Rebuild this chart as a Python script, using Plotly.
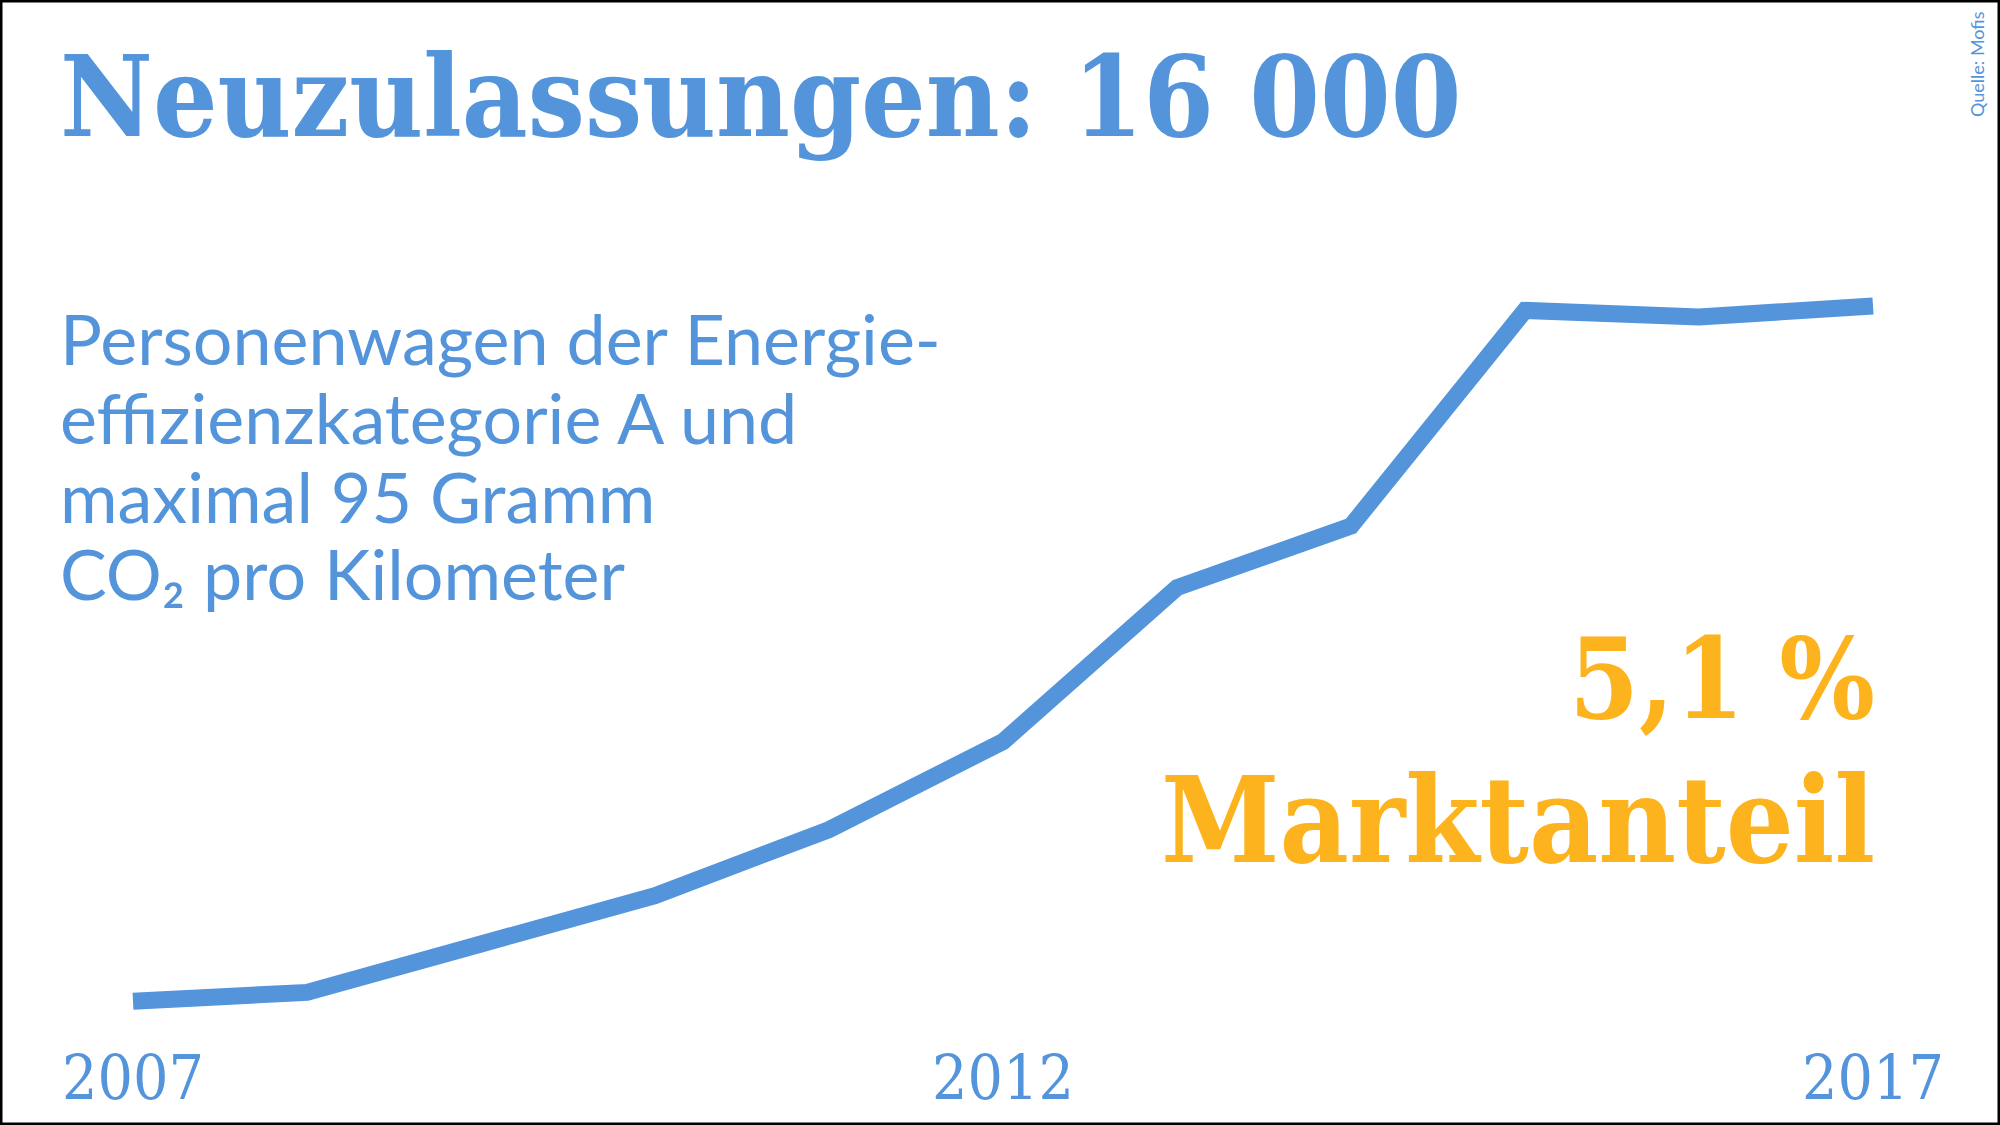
import plotly.graph_objects as go

# ---- data ----
years = [2007, 2008, 2009, 2010, 2011, 2012, 2013, 2014, 2015, 2016, 2017]
registrations = [200, 400, 1500, 2600, 4100, 6100, 9600, 11000, 15900, 15750, 16000]
tick_years = [2007, 2012, 2017]
tick_labels = ["2007", "2012", "2017"]

title_text = "Neuzulassungen: 16 000"
subtitle_lines = [
    "Personenwagen der Energie-",
    "effizienzkategorie A und",
    "maximal 95 Gramm",
    "CO₂ pro Kilometer",
]
share_value = "5,1 %"
share_label = "Marktanteil"
source_text = "Quelle: Mofis"

BLUE = "#5394DB"
ORANGE = "#FDB31E"
W, H = 2000, 1125
SERIF = "DejaVu Serif Condensed, DejaVu Serif, serif"
SANS = "Lato, Noto Sans, sans-serif"

def py(px):
    return 1 - px / H

def px_x(px):
    return px / W

fig = go.Figure()
fig.add_trace(go.Scatter(
    x=years, y=registrations, mode="lines",
    line=dict(color=BLUE, width=17),
    hoverinfo="skip", showlegend=False,
))

annotations = []
annotations.append(dict(
    text=f"<b>{title_text}</b>", xref="paper", yref="paper",
    x=px_x(58), y=py(96), xanchor="left", yanchor="middle",
    showarrow=False, font=dict(family=SERIF, size=113, color=BLUE),
))
line_baselines = [367, 446, 525, 602]
for txt, b in zip(subtitle_lines, line_baselines):
    annotations.append(dict(
        text=txt, xref="paper", yref="paper",
        x=px_x(58), y=py(b - 29), xanchor="left", yanchor="middle",
        showarrow=False, font=dict(family=SANS, size=70, color=BLUE),
    ))
annotations.append(dict(
    text=f"<b>{share_value}</b>", xref="paper", yref="paper",
    x=px_x(1877), y=py(678), xanchor="right", yanchor="middle",
    showarrow=False, font=dict(family=SERIF, size=112, color=ORANGE),
))
annotations.append(dict(
    text=f"<b>{share_label}</b>", xref="paper", yref="paper",
    x=px_x(1877), y=py(820), xanchor="right", yanchor="middle",
    showarrow=False, font=dict(family=SERIF, size=119, color=ORANGE),
))
for yr, lab in zip(tick_years, tick_labels):
    annotations.append(dict(
        text=lab, xref="x", yref="paper",
        x=yr, y=py(1077), xanchor="center", yanchor="middle",
        showarrow=False, font=dict(family=SERIF, size=62, color=BLUE),
    ))
annotations.append(dict(
    text=source_text, xref="paper", yref="paper",
    x=px_x(1977), y=py(64), xanchor="center", yanchor="middle",
    textangle=-90, showarrow=False,
    font=dict(family=SANS, size=18, color=BLUE),
))

# x: 2007 -> 133 px, 2017 -> 1873 px (174 px per year)
x0 = 2007 - 133 / 174.0
x1 = x0 + W / 174.0

fig.update_layout(
    width=W, height=H,
    margin=dict(l=0, r=0, t=0, b=0),
    paper_bgcolor="white", plot_bgcolor="white",
    xaxis=dict(range=[x0, x1], visible=False, fixedrange=True),
    yaxis=dict(range=[-2614, 22955], visible=False, fixedrange=True),
    annotations=annotations,
    shapes=[dict(type="rect", xref="paper", yref="paper", x0=0, y0=0, x1=1, y1=1,
                 line=dict(color="black", width=5), layer="above")],
    hovermode=False,
)

fig.write_html(
    "out.html",
    config={"displayModeBar": False},
    post_script="document.body.style.margin='0';document.body.style.overflow='hidden';",
)
